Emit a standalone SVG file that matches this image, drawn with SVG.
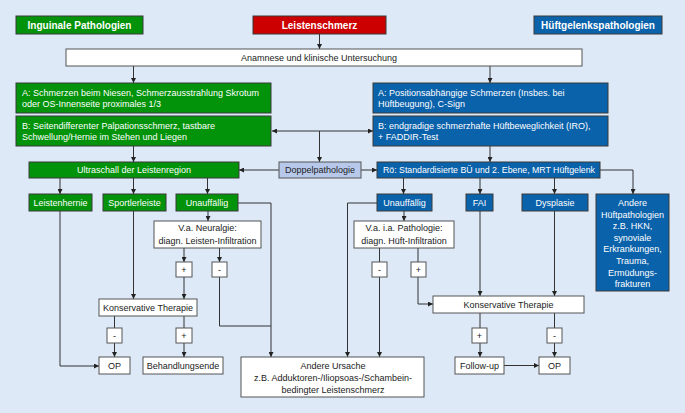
<svg xmlns="http://www.w3.org/2000/svg" width="685" height="413" viewBox="0 0 685 413">
<defs>
<marker id="a" viewBox="0 0 8 8" refX="8" refY="4" markerWidth="5" markerHeight="5" orient="auto-start-reverse" markerUnits="userSpaceOnUse"><path d="M0,0 L8,4 L0,8 z" fill="#222"/></marker>
<style>
text{font-family:"Liberation Sans",Arial,sans-serif;font-size:9px;fill:#222}
.t{font-size:10px;font-weight:bold;fill:#fff;text-anchor:middle}
.w{fill:#fff}
.c{text-anchor:middle}
.g{fill:#02930a;stroke:#3a3a3a;stroke-width:1}
.b{fill:#0a62ab;stroke:#3a3a3a;stroke-width:1}
.r{fill:#cc0000;stroke:#3a3a3a;stroke-width:1}
.p{fill:#b7c8eb;stroke:#555;stroke-width:1}
.n{fill:#fff;stroke:#555;stroke-width:1}
#edges path{fill:none;stroke:#333;stroke-width:1}
.m{marker-end:url(#a)}
</style>
</defs>
<rect width="685" height="413" fill="#dde9f7"/>

<g id="edges">
<path class="m" d="M319.5,34 V49"/>
<path class="m" d="M133.5,66 V83"/>
<path class="m" d="M490,66 V83"/>
<path class="m" d="M133.5,146 V162"/>
<path class="m" d="M490,146 V162"/>
<path class="m" d="M272,131 H373" marker-start="url(#a)"/>
<path class="m" d="M319.5,131 V162"/>
<path class="m" d="M279,170 H239"/>
<path class="m" d="M361,170 H377"/>
<path class="m" d="M60,178 V194"/>
<path class="m" d="M133.5,178 V194"/>
<path class="m" d="M207.5,178 V194"/>
<path class="m" d="M403.5,178 V194"/>
<path class="m" d="M480,178 V194"/>
<path class="m" d="M554.5,178 V194"/>
<path class="m" d="M600,170 H633 V194"/>
<path class="m" d="M238,203 H271 V357"/>
<path class="m" d="M377,203 H347.5 V357"/>
<path class="m" d="M208,211 V221"/>
<path class="m" d="M404,211 V221"/>
<path class="m" d="M184,248 V262"/>
<path class="m" d="M219.5,248 V262"/>
<path class="m" d="M184,277 V299"/>
<path d="M219.5,277 V326 H271"/>
<path class="m" d="M133.5,211 V299"/>
<path class="m" d="M60,211 V366 H99"/>
<path d="M114.5,316 V328"/>
<path class="m" d="M114.5,343 V357"/>
<path d="M184,316 V328"/>
<path class="m" d="M184,343 V357"/>
<path d="M379.5,248 V262"/>
<path class="m" d="M379.5,277 V357"/>
<path d="M418,248 V262"/>
<path class="m" d="M418,277 V304 H433"/>
<path class="m" d="M480,211 V296"/>
<path class="m" d="M554.5,211 V296"/>
<path d="M480,313 V328"/>
<path class="m" d="M480,343 V357"/>
<path d="M554.5,313 V328"/>
<path class="m" d="M554.5,343 V357"/>
<path class="m" d="M504,365.5 H539"/>
</g>

<g id="inguinal-title"><rect class="g" x="16" y="16" width="127" height="18"/><text class="t" x="79.5" y="28.6">Inguinale Pathologien</text></g>
<g id="leistenschmerz"><rect class="r" x="253" y="16" width="133" height="18"/><text class="t" x="319.5" y="28.6">Leistenschmerz</text></g>
<g id="hip-title"><rect class="b" x="534" y="16" width="128" height="18"/><text class="t" x="598" y="28.6">Hüftgelenkspathologien</text></g>

<g id="anamnese"><rect class="n" x="66" y="49" width="516" height="17"/><text x="241" y="61">Anamnese und klinische Untersuchung</text></g>

<g id="green-a"><rect class="g" x="16" y="83" width="255" height="30"/><text class="w" x="22" y="95.5">A: Schmerzen beim Niesen, Schmerzausstrahlung Skrotum</text><text class="w" x="22" y="107">oder OS-Innenseite proximales 1/3</text></g>
<g id="green-b"><rect class="g" x="16" y="116" width="255" height="30"/><text class="w" x="22" y="128.5">B: Seitendifferenter Palpationsschmerz, tastbare</text><text class="w" x="22" y="140">Schwellung/Hernie im Stehen und Liegen</text></g>
<g id="blue-a"><rect class="b" x="373" y="83" width="235" height="30"/><text class="w" x="378" y="95.5">A: Positionsabhängige Schmerzen (Insbes. bei</text><text class="w" x="378" y="107">Hüftbeugung), C-Sign</text></g>
<g id="blue-b"><rect class="b" x="373" y="116" width="235" height="30"/><text class="w" x="378" y="128.5">B: endgradige schmerzhafte Hüftbeweglichkeit (IRO),</text><text class="w" x="378" y="140">+ FADDIR-Test</text></g>

<g id="doppel"><rect class="p" x="279" y="162" width="82" height="16"/><text class="c" x="320" y="173.2">Doppelpathologie</text></g>
<g id="ultraschall"><rect class="g" x="29" y="162" width="210" height="16"/><text class="w c" x="134" y="173.2">Ultraschall der Leistenregion</text></g>
<g id="roe"><rect class="b" x="377" y="162" width="223" height="16"/><text class="w" x="383" y="173.2" textLength="212" lengthAdjust="spacingAndGlyphs">Rö: Standardisierte BÜ und 2. Ebene, MRT Hüftgelenk</text></g>

<g id="leistenhernie"><rect class="g" x="29" y="194" width="63" height="17"/><text class="w c" x="60.5" y="205.7">Leistenhernie</text></g>
<g id="sportlerleiste"><rect class="g" x="103" y="194" width="63" height="17"/><text class="w c" x="134.5" y="205.7">Sportlerleiste</text></g>
<g id="unauff-green"><rect class="g" x="176" y="194" width="62" height="17"/><text class="w c" x="207" y="205.7">Unauffällig</text></g>
<g id="unauff-blue"><rect class="b" x="377" y="194" width="55" height="17"/><text class="w c" x="404.5" y="205.7">Unauffällig</text></g>
<g id="fai"><rect class="b" x="466" y="194" width="27" height="17"/><text class="w c" x="479.5" y="205.7">FAI</text></g>
<g id="dysplasie"><rect class="b" x="522" y="194" width="66" height="17"/><text class="w c" x="555" y="205.7">Dysplasie</text></g>
<g id="andere-hueft"><rect class="b" x="596" y="194" width="73" height="97"/>
<text class="w c" x="632.5" y="206">Andere</text>
<text class="w c" x="632.5" y="217.6">Hüftpathologien</text>
<text class="w c" x="632.5" y="229.2">z.B. HKN,</text>
<text class="w c" x="632.5" y="240.8">synoviale</text>
<text class="w c" x="632.5" y="252.4">Erkrankungen,</text>
<text class="w c" x="632.5" y="264">Trauma,</text>
<text class="w c" x="632.5" y="275.6">Ermüdungs-</text>
<text class="w c" x="632.5" y="287.2">frakturen</text></g>

<g id="neuralgie"><rect class="n" x="154" y="221" width="107" height="27"/><text class="c" x="207.5" y="230.8">V.a. Neuralgie:</text><text class="c" x="207.5" y="243.5">diagn. Leisten-Infiltration</text></g>
<g id="plus-l1"><rect class="n" x="176" y="262" width="16" height="15"/><text class="c" x="184" y="272.5">+</text></g>
<g id="minus-l1"><rect class="n" x="212" y="262" width="15" height="15"/><text class="c" x="219.5" y="272.5">-</text></g>
<g id="kt-left"><rect class="n" x="99" y="299" width="98" height="17"/><text class="c" x="148" y="310.7">Konservative Therapie</text></g>
<g id="minus-l2"><rect class="n" x="107" y="328" width="15" height="15"/><text class="c" x="114.5" y="338.5">-</text></g>
<g id="plus-l2"><rect class="n" x="176" y="328" width="16" height="15"/><text class="c" x="184" y="338.5">+</text></g>
<g id="op-left"><rect class="n" x="99" y="357" width="31" height="17"/><text class="c" x="114.5" y="368.7">OP</text></g>
<g id="behandlungsende"><rect class="n" x="143" y="357" width="80" height="17"/><text class="c" x="183" y="368.7">Behandlungsende</text></g>

<g id="andere-ursache"><rect class="n" x="241" y="357" width="183" height="40"/><text class="c" x="333" y="369.3">Andere Ursache</text><text class="c" x="333" y="381">z.B. Adduktoren-/Iliopsoas-/Schambein-</text><text class="c" x="333" y="392.5">bedingter Leistenschmerz</text></g>

<g id="ia-pathologie"><rect class="n" x="354" y="221" width="100" height="27"/><text class="c" x="404" y="230.8">V.a. i.a. Pathologie:</text><text class="c" x="404" y="243.5">diagn. Hüft-Infiltration</text></g>
<g id="minus-r1"><rect class="n" x="372" y="262" width="15" height="15"/><text class="c" x="379.5" y="272.5">-</text></g>
<g id="plus-r1"><rect class="n" x="411" y="262" width="15" height="15"/><text class="c" x="418.5" y="272.5">+</text></g>
<g id="kt-right"><rect class="n" x="433" y="296" width="151" height="17"/><text class="c" x="508.5" y="307.7">Konservative Therapie</text></g>
<g id="plus-r2"><rect class="n" x="472" y="328" width="15" height="15"/><text class="c" x="479.5" y="338.5">+</text></g>
<g id="minus-r2"><rect class="n" x="547" y="328" width="15" height="15"/><text class="c" x="554.5" y="338.5">-</text></g>
<g id="follow-up"><rect class="n" x="455" y="357" width="49" height="17"/><text class="c" x="479.5" y="368.7">Follow-up</text></g>
<g id="op-right"><rect class="n" x="539" y="357" width="31" height="17"/><text class="c" x="554.5" y="368.7">OP</text></g>
</svg>
